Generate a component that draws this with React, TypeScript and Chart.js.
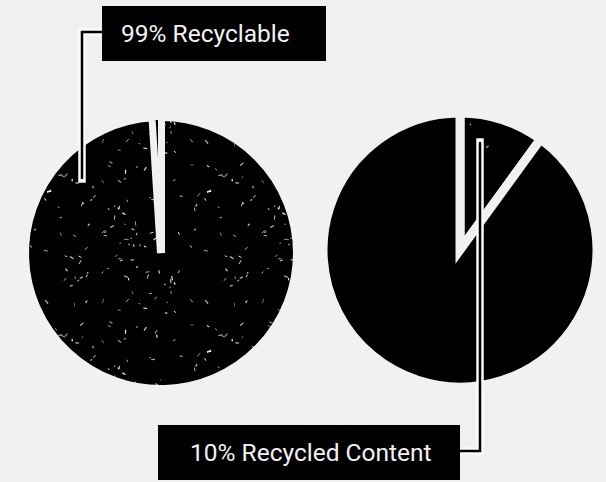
import React, { useEffect, useRef } from "react";
import { Chart, registerables } from "chart.js";

Chart.register(...registerables);

// ---- data ----
const leftLabels = ["Recyclable", "Not recyclable"];
const leftValues = [99, 1];
const leftCallout = "99% Recyclable";

const rightLabels = ["Recycled content", "Other content"];
const rightValues = [10, 90];
const rightCallout = "10% Recycled Content";

// ---- style ----
const BG = "#f0f0f0";
const GAP = "#f1f1f1";
const FONT = "Roboto, 'Noto Sans', sans-serif";

function speckle(ctx: CanvasRenderingContext2D, size: number, count: number, seed: number) {
  const c = document.createElement("canvas");
  c.width = size;
  c.height = size;
  const g = c.getContext("2d")!;
  g.fillStyle = "#000";
  g.fillRect(0, 0, size, size);
  let s = seed >>> 0;
  const rnd = () => {
    s = (Math.imul(s, 1664525) + 1013904223) >>> 0;
    return s / 4294967296;
  };
  g.strokeStyle = "#fff";
  g.lineCap = "round";
  for (let i = 0; i < count; i++) {
    const x = rnd() * size;
    const y = rnd() * size;
    const len = 0.5 + rnd() * 3.2;
    const a = rnd() * Math.PI;
    g.globalAlpha = 0.5 + rnd() * 0.5;
    g.lineWidth = 0.7 + rnd() * 0.7;
    g.beginPath();
    g.moveTo(x, y);
    g.lineTo(x + Math.cos(a) * len, y + Math.sin(a) * len);
    g.stroke();
  }
  return ctx.createPattern(c, "repeat")!;
}

function makePie(
  canvas: HTMLCanvasElement,
  labels: string[],
  values: number[],
  colors: (string | CanvasPattern)[],
  borderWidths: number[],
  radius: number
) {
  return new Chart(canvas, {
    type: "pie",
    data: {
      labels,
      datasets: [
        {
          data: values,
          backgroundColor: colors,
          borderColor: GAP,
          borderWidth: borderWidths,
          borderJoinStyle: "miter",
          radius,
        } as any,
      ],
    },
    options: {
      animation: false,
      responsive: true,
      maintainAspectRatio: false,
      events: [],
      layout: { padding: 0 },
      plugins: { legend: { display: false }, tooltip: { enabled: false } },
    } as any,
  });
}

export default function App() {
  const leftRef = useRef<HTMLCanvasElement>(null);
  const rightRef = useRef<HTMLCanvasElement>(null);

  useEffect(() => {
    document.body.style.margin = "0";
    const lc = leftRef.current!;
    const rc = rightRef.current!;
    const lctx = lc.getContext("2d")!;
    const rctx = rc.getContext("2d")!;
    const dense = speckle(lctx, 160, 120, 12345);
    const sparse = speckle(rctx, 160, 22, 777);
    const left = makePie(lc, leftLabels, leftValues, [dense, "#000"], [8, 6], 136);
    const right = makePie(rc, rightLabels, rightValues, [sparse, "#000"], [9, 9], 137);
    return () => {
      left.destroy();
      right.destroy();
    };
  }, []);

  const box: React.CSSProperties = {
    position: "absolute",
    background: "#000",
    color: "#f2f2f2",
    fontFamily: FONT,
    fontSize: 24.5,
    lineHeight: "55px",
    height: 55,
    whiteSpace: "nowrap",
    boxSizing: "border-box",
  };

  return (
    <div
      style={{
        position: "fixed",
        left: 0,
        top: 0,
        width: 606,
        height: 482,
        background: BG,
        overflow: "hidden",
      }}
    >
      <div style={{ position: "absolute", left: 161 - 145, top: 253 - 145, width: 290, height: 290 }}>
        <canvas ref={leftRef} />
      </div>
      <div style={{ position: "absolute", left: 460 - 145, top: 250 - 145, width: 290, height: 290 }}>
        <canvas ref={rightRef} />
      </div>
      <svg style={{ position: "absolute", left: 0, top: 0 }} width={606} height={482}>
        <polyline points="102,32 82,32 82,179" fill="none" stroke="#fafafa" strokeWidth={7.5} strokeLinecap="square" strokeLinejoin="miter" />
        <polyline points="102,32 82,32 82,179" fill="none" stroke="#000" strokeWidth={2.5} strokeLinecap="butt" strokeLinejoin="miter" />
        <polyline points="460,451 480,451 480,142" fill="none" stroke="#fafafa" strokeWidth={7.5} strokeLinecap="square" strokeLinejoin="miter" />
        <polyline points="460,451 480,451 480,142" fill="none" stroke="#000" strokeWidth={2.5} strokeLinecap="butt" strokeLinejoin="miter" />
      </svg>
      <div style={{ ...box, left: 102, top: 6, width: 224, paddingLeft: 19 }}>{leftCallout}</div>
      <div style={{ ...box, left: 158, top: 425, width: 302, paddingLeft: 32 }}>{rightCallout}</div>
    </div>
  );
}
